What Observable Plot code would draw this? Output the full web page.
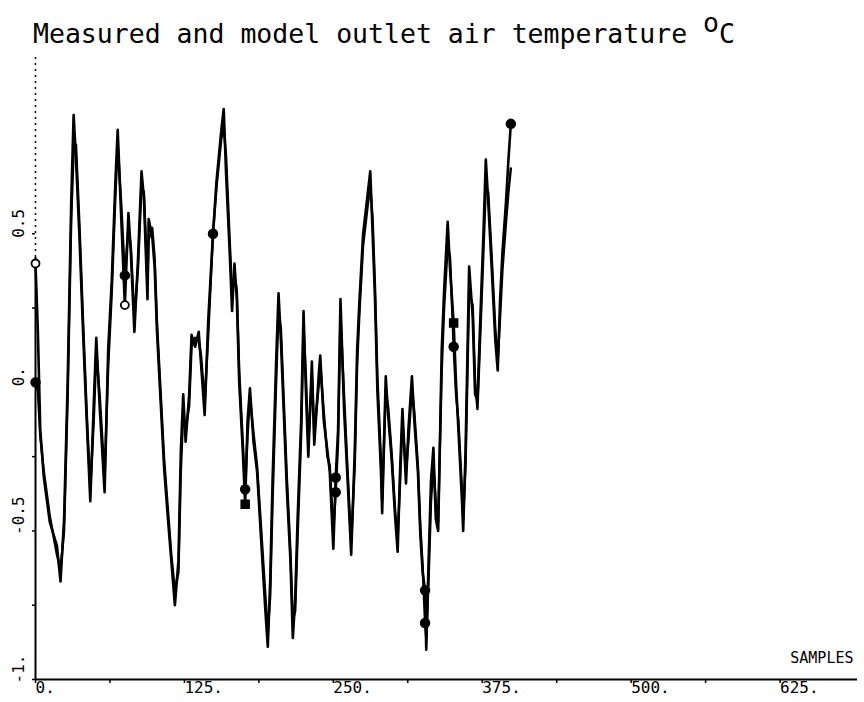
<!DOCTYPE html>
<html><head><meta charset="utf-8">
<script src="https://cdn.jsdelivr.net/npm/d3@7"></script>
<script src="https://cdn.jsdelivr.net/npm/@observablehq/plot@0.6"></script>
<style>
body{margin:0;background:#fff;width:864px;height:702px;overflow:hidden}
#title{position:relative;height:50px;font-family:"DejaVu Sans Mono",monospace;font-size:26.5px;color:#000}
#title .t{position:absolute;left:33px;top:21px;line-height:1;white-space:pre}
#title .sup{position:relative;top:-11px}
#chart svg{display:block}
</style></head><body>
<div id="title"><span class="t"></span></div>
<div id="chart"></div>
<script>
const titleText = "Measured and model outlet air temperature ";
const titleSup = "o";
const titleUnit = "C";

const samples = [0,2,4,7,12,18,21,24,27,30,32,34,37,40,43,46,49,51,54,58,61,64,67,69,72,75,78,80,83,86,89,91,94,95,98,100,102,105,108,111,114,117,120,122,124,126,129,131,134,137,139,142,145,149,152,156,158,160,163,165,167,169,171,174,176,178,180,183,186,190,193,195,197,199,202,204,206,208,211,214,216,218,220,223,225,227,229,232,234,238,239,242,245,247,250,252,254,256,259,262,265,268,270,272,275,279,281,283,285,287,290,291,294,296,299,302,304,306,308,311,313,316,318,321,323,325,327,328,330,332,334,336,338,341,343,346,348,351,353,355,358,359,361,364,367,369,371,373,376,378,380,383,386,388,390,392,395,397,399];

const measured = [0.40,0.17,-0.16,-0.32,-0.47,-0.55,-0.67,-0.46,0.00,0.61,0.90,0.75,0.48,0.16,-0.13,-0.40,-0.06,0.15,-0.09,-0.37,0.11,0.34,0.67,0.85,0.55,0.26,0.57,0.44,0.17,0.41,0.71,0.62,0.28,0.55,0.49,0.39,0.17,-0.06,-0.29,-0.45,-0.60,-0.75,-0.60,-0.23,-0.04,-0.20,-0.04,0.16,0.12,0.17,0.06,-0.11,0.21,0.50,0.68,0.85,0.92,0.70,0.44,0.24,0.40,0.28,0.00,-0.23,-0.41,-0.13,-0.02,-0.20,-0.30,-0.57,-0.77,-0.89,-0.67,-0.33,0.07,0.30,0.14,-0.06,-0.36,-0.60,-0.86,-0.73,-0.46,-0.13,0.24,-0.03,-0.25,0.07,-0.21,0.04,0.09,-0.13,-0.23,-0.30,-0.56,-0.32,-0.16,0.28,-0.09,-0.33,-0.58,-0.23,0.11,0.28,0.50,0.64,0.71,0.50,0.28,-0.03,-0.30,-0.44,0.02,-0.11,-0.26,-0.46,-0.57,-0.30,-0.09,-0.34,-0.16,0.02,-0.13,-0.30,-0.51,-0.64,-0.70,-0.90,-0.60,-0.33,-0.22,-0.46,-0.50,0.11,0.31,0.54,0.38,0.20,0.00,-0.16,-0.40,-0.50,-0.23,0.39,0.22,-0.04,-0.06,0.17,0.50,0.75,0.61,0.38,0.14,0.04,0.28,0.44,0.61,0.75,0.87];

const model = [0.00,-0.03,-0.18,-0.30,-0.45,-0.58,-0.63,-0.50,-0.05,0.55,0.78,0.80,0.52,0.20,-0.10,-0.36,-0.12,0.10,-0.05,-0.32,0.05,0.30,0.62,0.80,0.60,0.36,0.52,0.46,0.22,0.38,0.66,0.64,0.34,0.48,0.52,0.42,0.20,-0.03,-0.26,-0.42,-0.58,-0.70,-0.64,-0.30,-0.10,-0.16,-0.08,0.12,0.15,0.14,0.09,-0.07,0.16,0.50,0.66,0.82,0.86,0.76,0.48,0.30,0.36,0.31,0.04,-0.20,-0.36,-0.18,-0.05,-0.17,-0.28,-0.53,-0.72,-0.84,-0.72,-0.40,0.00,0.24,0.18,-0.02,-0.32,-0.57,-0.80,-0.77,-0.52,-0.18,0.18,0.02,-0.21,0.02,-0.17,0.00,0.06,-0.10,-0.25,-0.28,-0.50,-0.37,-0.20,0.22,-0.04,-0.30,-0.54,-0.28,0.06,0.24,0.46,0.60,0.66,0.55,0.32,0.02,-0.26,-0.40,-0.03,-0.08,-0.24,-0.44,-0.52,-0.34,-0.13,-0.30,-0.20,-0.02,-0.10,-0.28,-0.48,-0.62,-0.81,-0.86,-0.66,-0.40,-0.28,-0.40,-0.47,0.04,0.25,0.46,0.42,0.12,-0.04,-0.13,-0.36,-0.46,-0.28,0.30,0.26,0.00,-0.09,0.12,0.44,0.66,0.64,0.42,0.18,0.07,0.22,0.38,0.54,0.64,0.72];

// plot symbols drawn on the curves
const markerSamples = [0, 0, 75, 75, 149, 176, 176, 252, 252, 327, 327, 351, 351, 399];
const markerSeries  = ["measured","model","measured","model","model","measured","model","measured","model","measured","model","measured","model","measured"];
const markerSymbols = ["open","dot","open","dot","dot","square","dot","dot","dot","dot","dot","square","dot","dot"];

const xTicks = [0, 125, 250, 375, 500, 625];
const xTickLabels = ["0.", "125.", "250.", "375.", "500.", "625."];
const xMinorTicks = [62.5, 187.5, 312.5, 437.5, 562.5];
const yTicks = [-1, -0.5, 0, 0.5];
const yTickLabels = ["-1.", "-0.5", "0.", "0.5"];
const yMinorTicks = [-0.75, -0.25, 0.25];
const xLabel = "SAMPLES";

// title
const t = document.querySelector("#title .t");
t.append(titleText);
const sup = document.createElement("span"); sup.className = "sup"; sup.textContent = titleSup;
t.append(sup, titleUnit);

const rows = samples.map((s, i) => ({s, measured: measured[i], model: model[i]}));
const markers = markerSamples.map((s, i) => {
  const r = rows.find(d => d.s === s);
  return {s, v: r[markerSeries[i]], sym: markerSymbols[i]};
});

const font = "DejaVu Sans Mono";
const chart = Plot.plot({
  width: 864, height: 652,
  marginLeft: 35, marginRight: 7, marginTop: 5, marginBottom: 23,
  x: {domain: [0, 690], axis: null, label: null},
  y: {domain: [-1, 1.1], axis: null, label: null},
  style: {fontFamily: font, background: "white", color: "black", overflow: "visible"},
  marks: [
    Plot.axisX({ticks: xTicks, tickFormat: (d) => xTickLabels[xTicks.indexOf(d)], tickSize: 4, tickPadding: -2,
      textAnchor: "start", fontSize: 16, strokeWidth: 1.5, label: null}),
    Plot.axisX({ticks: xMinorTicks, tickFormat: () => "", tickSize: 4, strokeWidth: 1.5, label: null}),
    Plot.axisY({ticks: [...yTicks, ...yMinorTicks], tickFormat: () => "", tickSize: 3, strokeWidth: 1.5, label: null}),
    Plot.text(yTicks, {y: d => d, text: (d) => yTickLabels[yTicks.indexOf(d)], frameAnchor: "left",
      dx: -17, dy: 4, rotate: -90, textAnchor: "start", fontSize: 16}),
    Plot.ruleY([-1], {stroke: "black", strokeWidth: 2}),
    Plot.ruleX([0], {y1: -1, y2: 0.42, stroke: "black", strokeWidth: 2}),
    Plot.ruleX([0], {y1: 0.42, y2: 1.1, stroke: "black", strokeWidth: 1.5, strokeDasharray: "2,4"}),
    Plot.text([xLabel], {text: d => d, frameAnchor: "bottom-right", dx: -4, dy: -17, lineAnchor: "bottom",
      textAnchor: "end", fontSize: 15}),
    Plot.line(rows, {x: "s", y: "model", stroke: "black", strokeWidth: 2.4}),
    Plot.line(rows, {x: "s", y: "measured", stroke: "black", strokeWidth: 2.6}),
    Plot.dot(markers.filter(d => d.sym === "open"), {x: "s", y: "v", r: 4, fill: "white", stroke: "black", strokeWidth: 1.8}),
    Plot.dot(markers.filter(d => d.sym === "dot"), {x: "s", y: "v", r: 4.5, fill: "black", stroke: "black"}),
    Plot.dot(markers.filter(d => d.sym === "square"), {x: "s", y: "v", r: 4.5, symbol: "square", fill: "black", stroke: "black"})
  ]
});
document.getElementById("chart").append(chart);
</script></body></html>
